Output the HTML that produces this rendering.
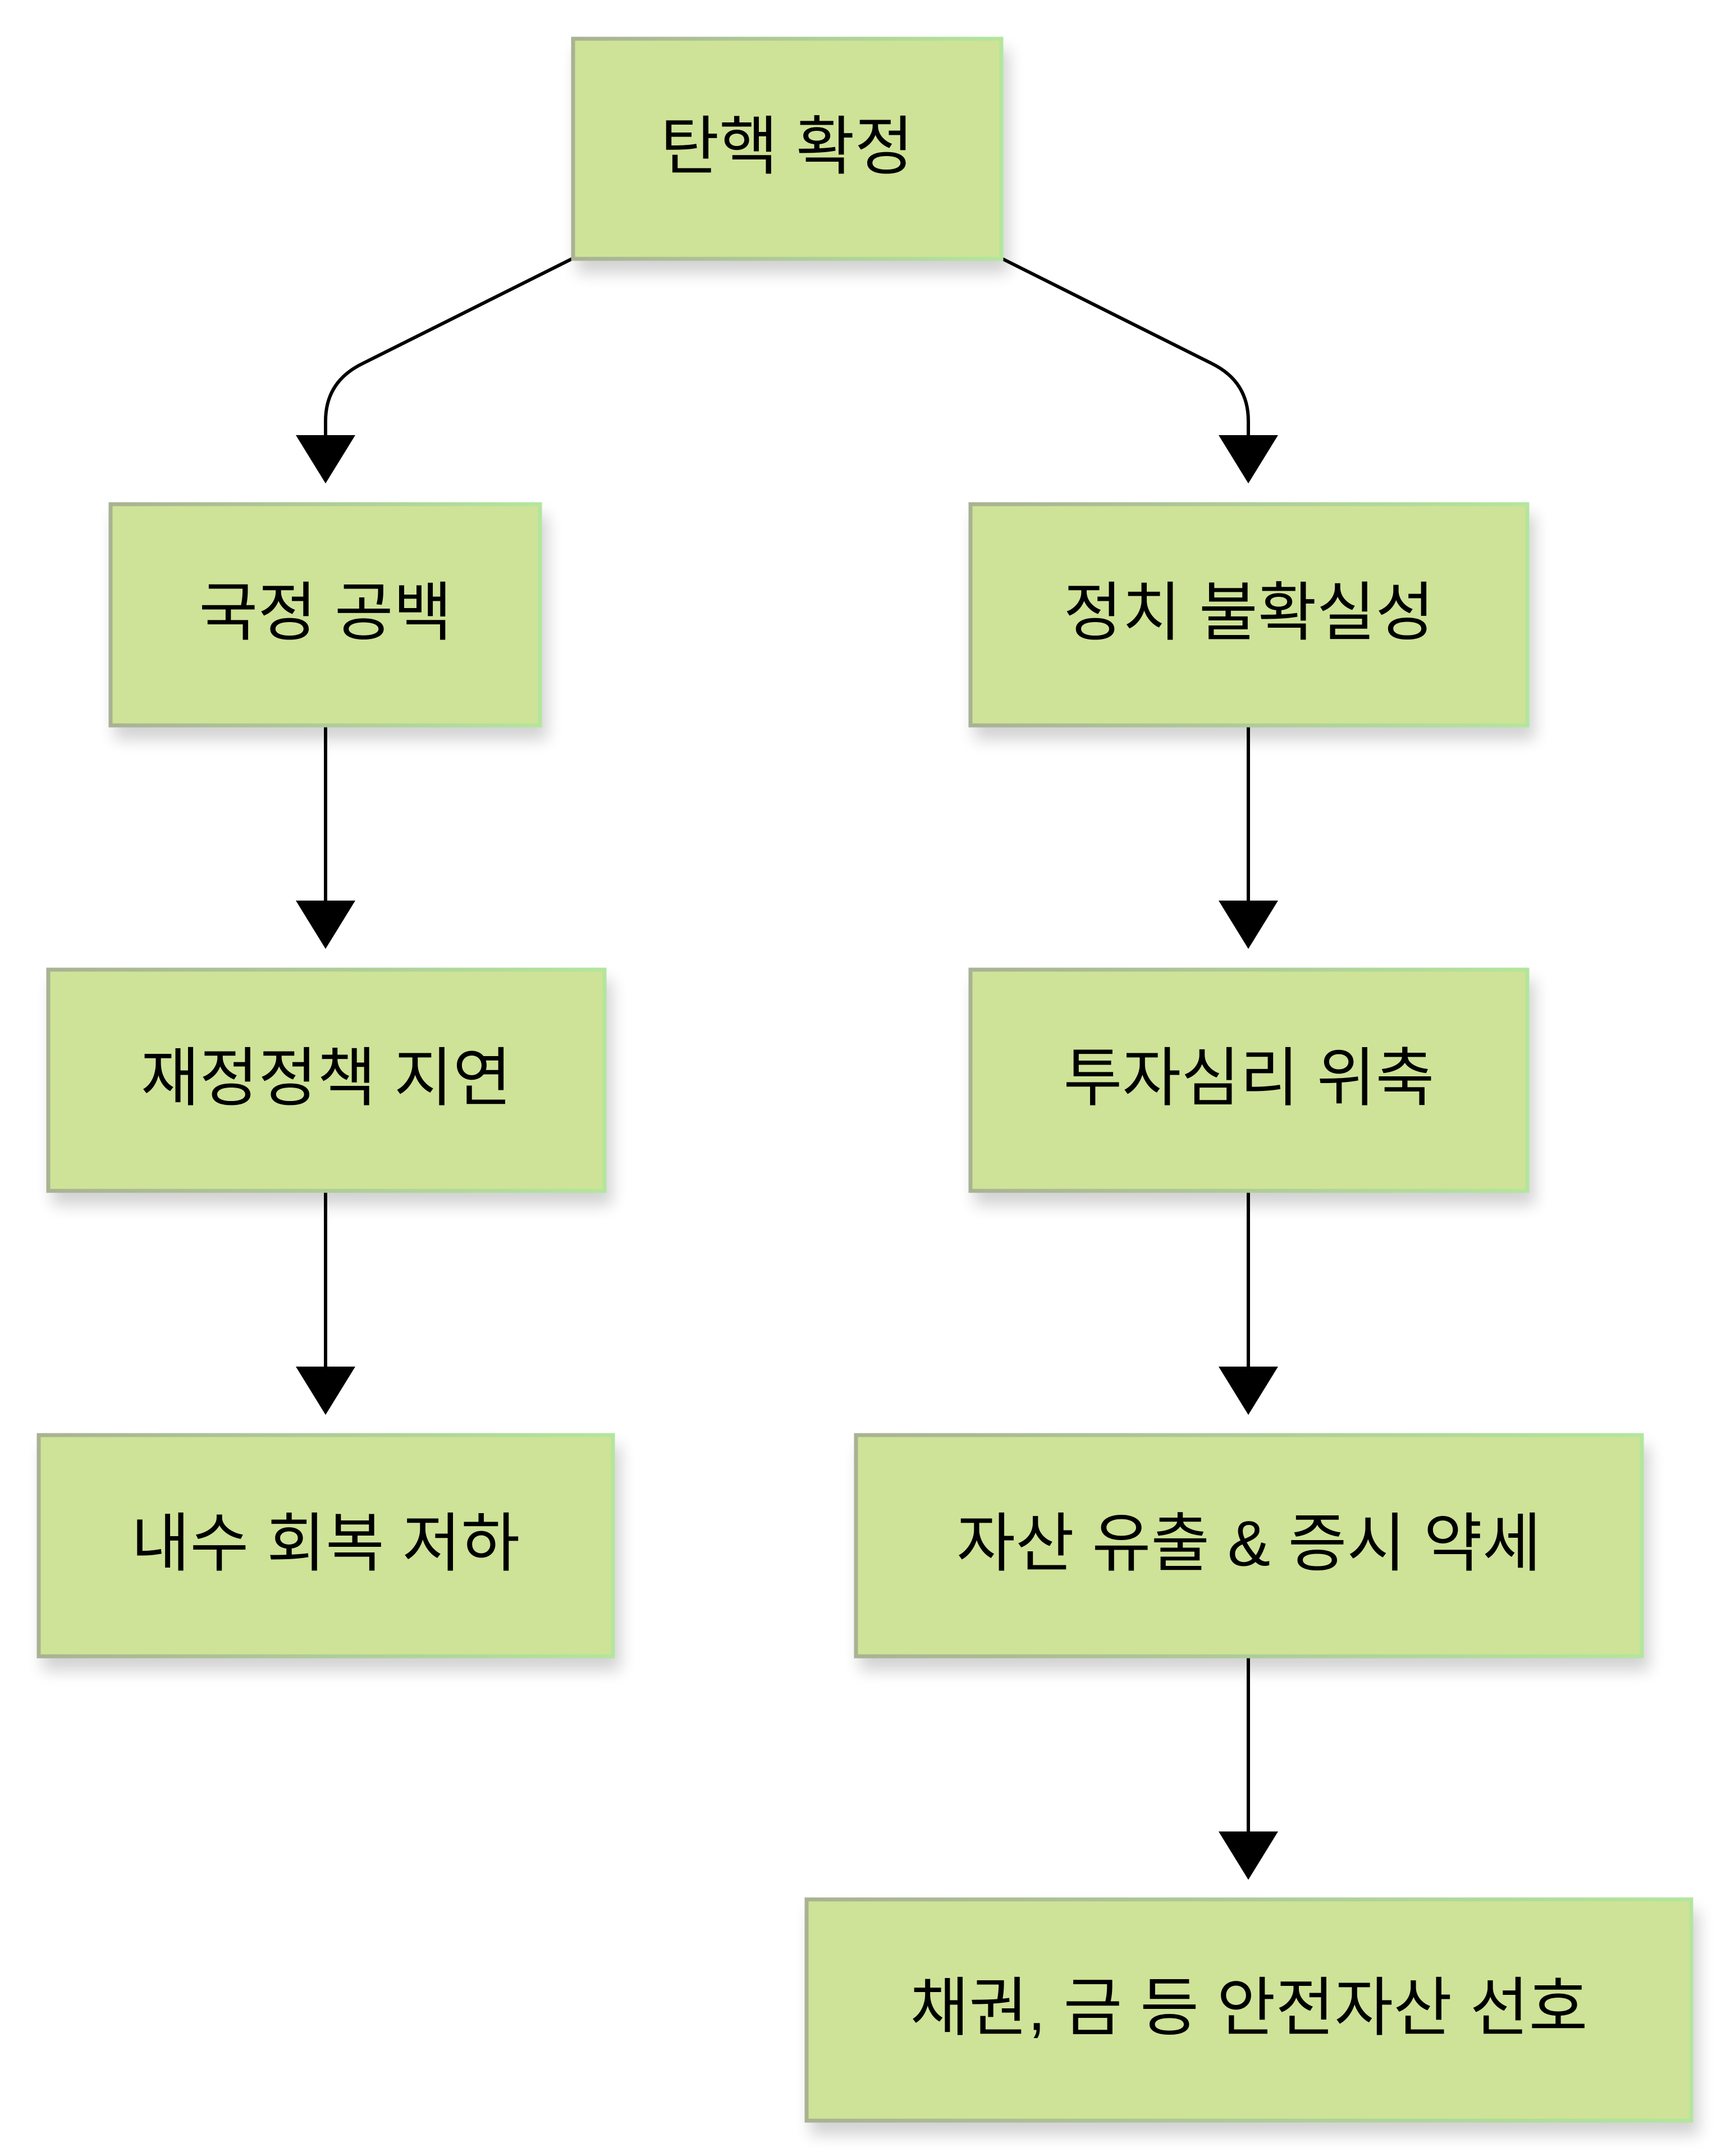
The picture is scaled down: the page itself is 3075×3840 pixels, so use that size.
<!DOCTYPE html>
<html><head><meta charset="utf-8"><style>
html,body{margin:0;padding:0;background:#fff;}
svg{display:block;}
text{font-family:"Liberation Sans","Noto Sans CJK KR",sans-serif;font-size:114px;fill:#000;text-anchor:middle;dominant-baseline:central;}
</style></head><body>
<svg width="3075" height="3840" viewBox="0 0 3075 3840" xmlns="http://www.w3.org/2000/svg">
<defs>
<linearGradient id="g" x1="0" y1="0" x2="1" y2="0">
<stop offset="0" stop-color="#a9b293"/><stop offset="1" stop-color="#b3e69c"/>
</linearGradient>
<filter id="s" x="-10%" y="-10%" width="130%" height="140%">
<feGaussianBlur in="SourceAlpha" stdDeviation="14"/>
<feOffset dx="10" dy="22" result="b"/>
<feComponentTransfer><feFuncA type="linear" slope="0.18"/></feComponentTransfer>
<feMerge><feMergeNode/><feMergeNode in="SourceGraphic"/></feMerge>
</filter>
</defs>
<g fill="none" stroke="#000" stroke-width="6">
<path d="M1021 460 L645 648 Q580 680 580 750 L580 775"/>
<path d="M1784 460 L2160 648 Q2224 680 2224 750 L2224 775"/>
<path d="M580 1292 L580 1605"/>
<path d="M580 2121 L580 2440"/>
<path d="M2224 1292 L2224 1605"/>
<path d="M2224 2121 L2224 2440"/>
<path d="M2224 2950 L2224 3268"/>
</g>
<g fill="#000">
<path d="M527 775 L633 775 L580 861 Z"/>
<path d="M2171 775 L2277 775 L2224 861 Z"/>
<path d="M527 1604 L633 1604 L580 1690 Z"/>
<path d="M2171 1604 L2277 1604 L2224 1690 Z"/>
<path d="M527 2434 L633 2434 L580 2520 Z"/>
<path d="M2171 2434 L2277 2434 L2224 2520 Z"/>
<path d="M2171 3262 L2277 3262 L2224 3348 Z"/>
</g>
<g fill="#cee397" stroke="url(#g)" stroke-width="7" filter="url(#s)">
<rect x="1021" y="69" width="763" height="392"/>
<rect x="197" y="898" width="765" height="394"/>
<rect x="1729" y="898" width="992" height="394"/>
<rect x="86" y="1727" width="991" height="394"/>
<rect x="1729" y="1727" width="992" height="394"/>
<rect x="69" y="2556" width="1023" height="394"/>
<rect x="1525" y="2556" width="1400" height="394"/>
<rect x="1437" y="3383" width="1576" height="394"/>
</g>
<text x="1402" y="262">탄핵 확정</text>
<text x="580" y="1092">국정 공백</text>
<text x="2225" y="1092">정치 불확실성</text>
<text x="581" y="1921">재정정책 지연</text>
<text x="2225" y="1921">투자심리 위축</text>
<text x="580" y="2750">내수 회복 저하</text>
<text x="2225" y="2750">자산 유출 &amp; 증시 약세</text>
<text x="2225" y="3577">채권, 금 등 안전자산 선호</text>
</svg>
</body></html>
